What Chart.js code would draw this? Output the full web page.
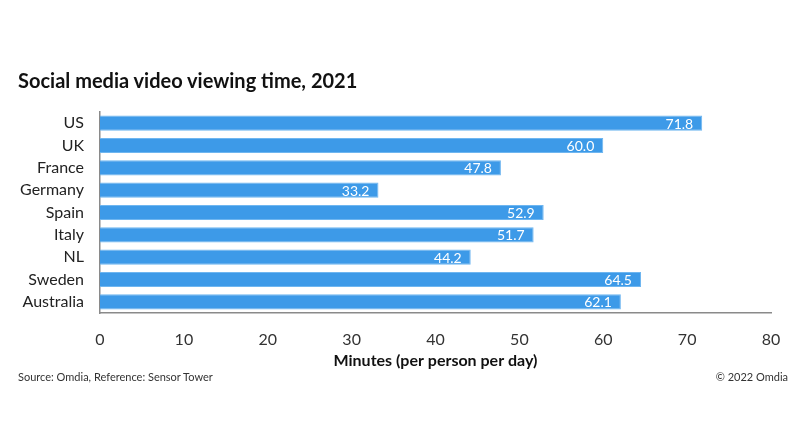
<!DOCTYPE html>
<html>
<head>
<meta charset="utf-8">
<script src="https://cdn.jsdelivr.net/npm/chart.js@4.4.0/dist/chart.umd.min.js"></script>
<style>
  html, body { margin: 0; padding: 0; background: #fff; }
  #wrap { position: relative; width: 800px; height: 445px; font-family: Lato, 'Open Sans', sans-serif; }
  #chart { position: absolute; left: 0; top: 0; }
  .title { position: absolute; left: 18px; top: 68px; font-size: 20px; font-weight: bold; color: #111; }
  .note { position: absolute; top: 370px; font-size: 11px; color: #333; }
</style>
</head>
<body>
<div id="wrap">
  <canvas id="chart" width="800" height="445"></canvas>
  <div class="title">Social media video viewing time, 2021</div>
  <div class="note" style="left:18px;">Source: Omdia, Reference: Sensor Tower</div>
  <div class="note" style="right:12px;">© 2022 Omdia</div>
</div>
<script>
const countries = ['US', 'UK', 'France', 'Germany', 'Spain', 'Italy', 'NL', 'Sweden', 'Australia'];
const minutes = [71.8, 60.0, 47.8, 33.2, 52.9, 51.7, 44.2, 64.5, 62.1];
const xTicks = [0, 10, 20, 30, 40, 50, 60, 70, 80];

/* white value labels drawn inside the end of each bar */
const valueLabels = {
  id: 'valueLabels',
  afterDatasetsDraw(chart) {
    const ctx = chart.ctx;
    const meta = chart.getDatasetMeta(0);
    ctx.save();
    ctx.font = '14px Lato, sans-serif';
    ctx.fillStyle = '#fff';
    ctx.textAlign = 'right';
    ctx.textBaseline = 'middle';
    meta.data.forEach((bar, i) => {
      ctx.fillText(minutes[i].toFixed(1), bar.x - 9, bar.y + 1);
    });
    ctx.restore();
  }
};

Chart.defaults.font = { family: 'Lato', size: 15 };
Chart.defaults.color = '#222';

new Chart(document.getElementById('chart'), {
  type: 'bar',
  data: {
    labels: countries,
    datasets: [{
      data: minutes,
      backgroundColor: '#3d9ae8',
      borderColor: '#6fb6f0',
      borderWidth: 1,
      categoryPercentage: 0.68,
      barPercentage: 1.0
    }]
  },
  options: {
    indexAxis: 'y',
    responsive: false,
    animation: false,
    layout: { padding: { left: 0, right: 29, top: 112, bottom: 72 } },
    plugins: { legend: { display: false }, tooltip: { enabled: false } },
    scales: {
      x: {
        min: 0, max: 80,
        afterBuildTicks(scale) { scale.ticks = xTicks.map(v => ({ value: v })); },
        grid: { display: false },
        border: { display: true, color: '#8a8a8a', width: 1.5 },
        ticks: { padding: 9, color: '#333', font: { size: 16 } },
        title: {
          display: true,
          text: 'Minutes (per person per day)',
          color: '#111',
          font: { size: 16, weight: 'bold' },
          padding: { top: 4, bottom: 3 }
        },
        afterFit(scale) { scale.height = 60; }
      },
      y: {
        grid: { display: false },
        border: { display: true, color: '#8a8a8a', width: 1.5 },
        ticks: { padding: 8, color: '#222', font: { size: 16 } },
        afterFit(scale) { scale.width = 100; }
      }
    }
  },
  plugins: [valueLabels]
});
</script>
</body>
</html>
